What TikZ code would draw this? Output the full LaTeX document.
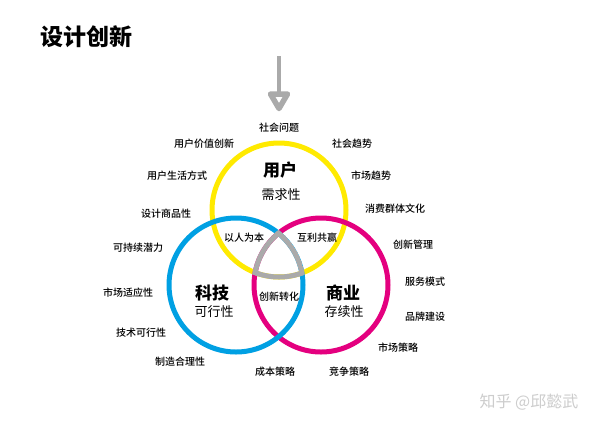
\documentclass[tikz,border=0pt]{standalone}
\usepackage{fontspec}
\setmainfont{Noto Sans CJK SC}
\newfontfamily\titlefont{Noto Sans CJK SC Black}
\newfontfamily\medfont{Noto Sans CJK SC Medium}
\definecolor{cyel}{RGB}{255,234,0}
\definecolor{cblu}{RGB}{0,160,227}
\definecolor{cmag}{RGB}{228,0,127}
\definecolor{cgry}{RGB}{170,170,170}
\definecolor{cwm}{RGB}{205,205,205}
\tikzset{
  lbl/.style={inner sep=0pt, font=\fontsize{10}{12}\selectfont\medfont},
  big/.style={inner sep=0pt, font=\fontsize{17}{20}\selectfont\bfseries},
  sub/.style={inner sep=0pt, font=\fontsize{13}{15}\selectfont},
  ring/.style={line width=5pt}
}
\begin{document}
\begin{tikzpicture}[x=1pt,y=-1pt]
\useasboundingbox (0,0) rectangle (600,424);
\fill[white] (0,0) rectangle (600,424);
% title
\node[inner sep=0pt, font=\fontsize{23}{26}\selectfont\titlefont] (title) at (86,37) {设计创新};
% arrow
\coordinate (atop) at (279,56);
\coordinate (abot) at (279,94);
\draw[cgry, line width=4pt] (atop) -- (abot);
\draw[cgry, line width=5.5pt, fill=white, line join=round] (270.5,94) -- (287.5,94) -- (279,108.5) -- cycle;
% circles
\coordinate (cy) at (279,210);
\coordinate (cb) at (236,285);
\coordinate (cm) at (321,285);
\draw[ring, cyel] (cy) circle (67);
\draw[ring, cmag] (cm) circle (67);
\draw[ring, cblu] (cb) circle (67);
\begin{scope}
  \clip (cy) circle (69.5);
  \clip (cb) circle (69.5);
  \clip (cm) circle (69.5);
  \draw[ring, cgry] (cy) circle (67);
  \draw[ring, cgry] (cb) circle (67);
  \draw[ring, cgry] (cm) circle (67);
\end{scope}
% main labels
\node[big] (yh) at (280,170) {用户};
\node[sub] (ys) at (281,195) {需求性};
\node[big] (bh) at (212,293) {科技};
\node[sub] (bs) at (214,312) {可行性};
\node[big] (mh) at (343,293) {商业};
\node[sub] (ms) at (344,312) {存续性};
% intersections
\node[lbl] (i1) at (244,238) {以人为本};
\node[lbl] (i2) at (317,238) {互利共赢};
\node[lbl] (i3) at (279,297) {创新转化};
% outer labels
\node[lbl] (o1) at (279,128) {社会问题};
\node[lbl] (o2) at (204,144) {用户价值创新};
\node[lbl] (o3) at (177,176) {用户生活方式};
\node[lbl] (o4) at (166,214) {设计商品性};
\node[lbl] (o5) at (138,248) {可持续潜力};
\node[lbl] (o6) at (128,293) {市场适应性};
\node[lbl] (o7) at (141,333) {技术可行性};
\node[lbl] (o8) at (180,362) {制造合理性};
\node[lbl] (o9) at (275,372) {成本策略};
\node[lbl] (o10) at (349,372) {竞争策略};
\node[lbl] (o11) at (352,144) {社会趋势};
\node[lbl] (o12) at (371,176) {市场趋势};
\node[lbl] (o13) at (395,209) {消费群体文化};
\node[lbl] (o14) at (413,245) {创新管理};
\node[lbl] (o15) at (425,282) {服务模式};
\node[lbl] (o16) at (425,317) {品牌建设};
\node[lbl] (o17) at (398,348) {市场策略};
% watermark
\node[inner sep=0pt, text=cwm, font=\fontsize{16}{18}\selectfont] (wm) at (529,402) {知乎 @邱懿武};
\end{tikzpicture}
\end{document}
